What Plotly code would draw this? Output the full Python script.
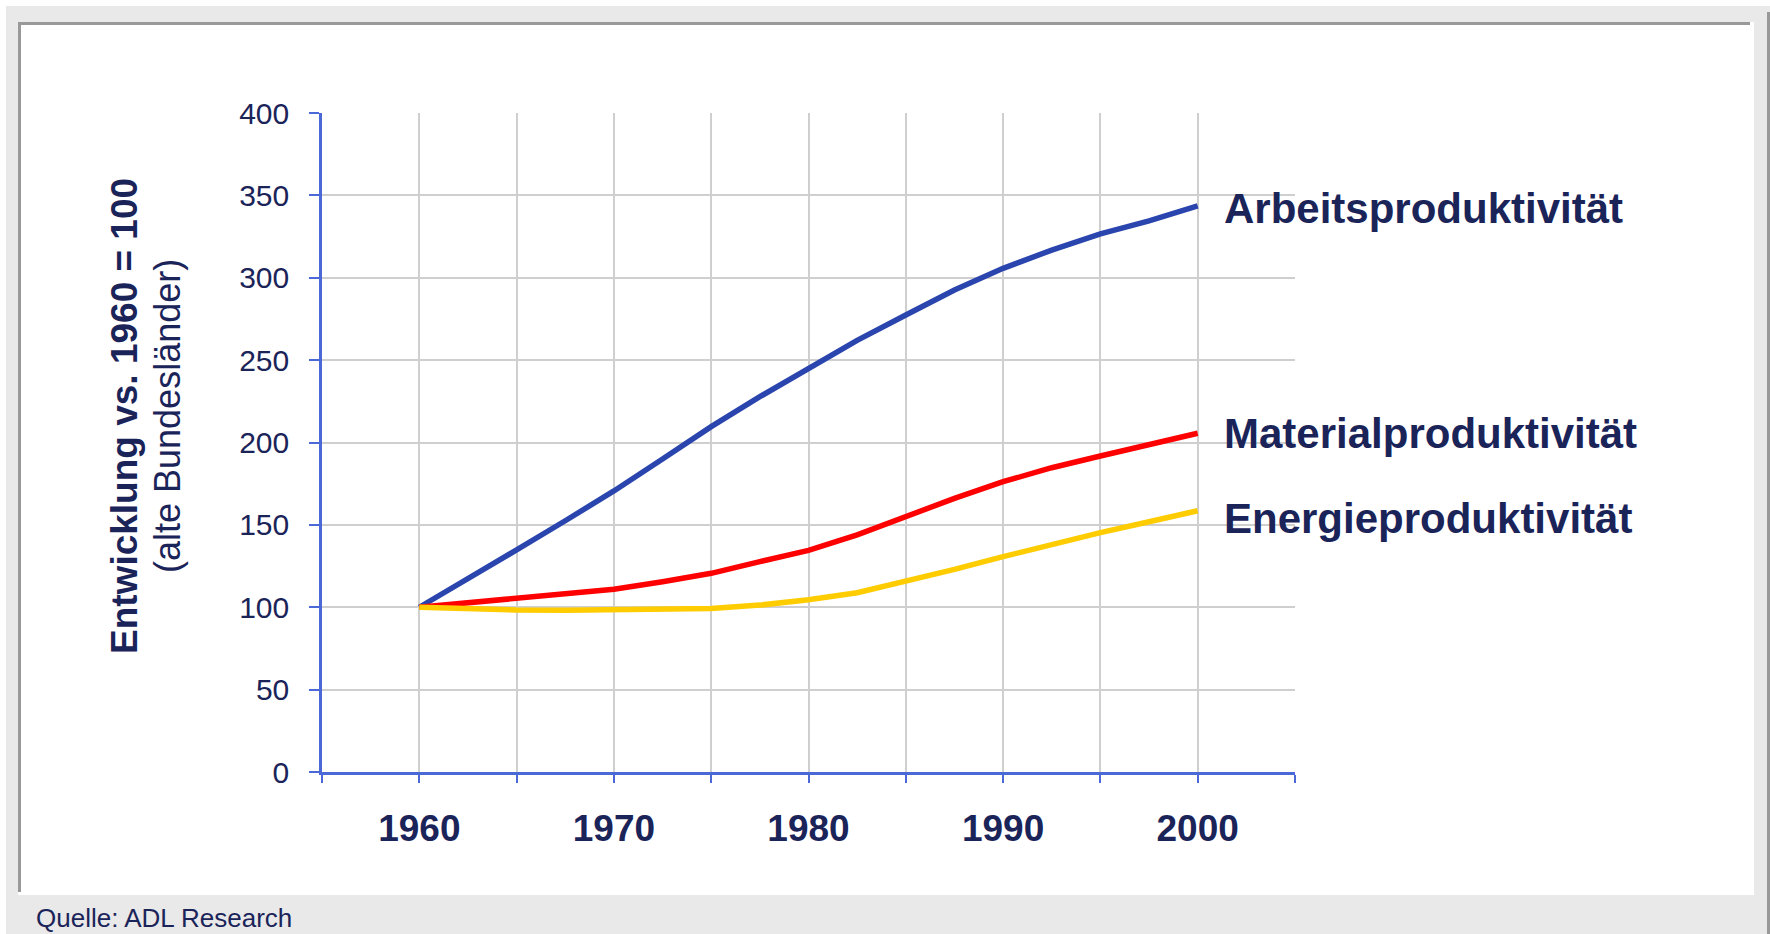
import plotly.graph_objects as go

# Index values (1960 = 100), old federal states
years = [1960, 1962.5, 1965, 1967.5, 1970, 1972.5, 1975, 1977.5, 1980,
         1982.5, 1985, 1987.5, 1990, 1992.5, 1995, 1997.5, 2000]
arbeit = [100, 117, 134.8, 152.5, 170.6, 190, 209.6, 227.8, 245,
          262, 277.4, 292.6, 305.7, 316.8, 326.6, 334.5, 343.6]
material = [100, 102.7, 105.4, 107.4, 110.9, 115.5, 120.6, 127.7, 134.5,
            143.9, 155, 166.1, 176.2, 184.7, 191.8, 198.5, 205.6]
energie = [100, 99, 98.3, 98.2, 98.3, 98.6, 99.3, 101.3, 104.6,
           108.8, 115.5, 123, 130.7, 138.2, 145.3, 151.9, 158.6]

series_names = ["Arbeitsproduktivität", "Materialproduktivität", "Energieproduktivität"]
series_values = [arbeit, material, energie]
series_colors = ["#2b45ae", "#ff0000", "#ffcc00"]
label_shift = [-3, 0, -8]

x_tickvals = [1955, 1960, 1965, 1970, 1975, 1980, 1985, 1990, 1995, 2000, 2005]
x_ticktext = ["", "1960", "", "1970", "", "1980", "", "1990", "", "2000", ""]
y_tickvals = [0, 50, 100, 150, 200, 250, 300, 350, 400]

NAVY = "#1b2459"
AXIS_BLUE = "#4b69d6"
GRID = "#cfcfcf"
FONT = "Liberation Sans, Arial, sans-serif"

W, H = 1770, 934
L, R, T, B = 322, 1295, 113, 772


def px(x):
    return (x - L) / (R - L)


def py(y):
    return (B - y) / (B - T)


fig = go.Figure()
for name, vals, col in zip(series_names, series_values, series_colors):
    fig.add_trace(go.Scatter(x=years, y=vals, mode="lines", name=name,
                             line=dict(color=col, width=5.5), showlegend=False))

annotations = []
for name, vals, dy in zip(series_names, series_values, label_shift):
    annotations.append(dict(x=years[-1], y=vals[-1], xref="x", yref="y",
                            text="<b>" + name + "</b>", showarrow=False,
                            xanchor="left", yanchor="middle", xshift=24, yshift=dy,
                            font=dict(family=FONT, size=42, color=NAVY)))

annotations.append(dict(x=px(124), y=py(416), xref="paper", yref="paper",
                        text="<b>Entwicklung vs. 1960 = 100</b>", showarrow=False,
                        textangle=-90, xanchor="center", yanchor="middle",
                        font=dict(family=FONT, size=37, color=NAVY)))
annotations.append(dict(x=px(167), y=py(416), xref="paper", yref="paper",
                        text="(alte Bundesländer)", showarrow=False,
                        textangle=-90, xanchor="center", yanchor="middle",
                        font=dict(family=FONT, size=36, color=NAVY)))
annotations.append(dict(x=px(34), y=py(918), xref="paper", yref="paper",
                        text="Quelle: ADL Research", showarrow=False,
                        xanchor="left", yanchor="middle",
                        font=dict(family=FONT, size=26, color=NAVY)))


def rect(x0, y0, x1, y1, color):
    return dict(type="rect", xref="paper", yref="paper", layer="below",
                x0=px(x0), x1=px(x1), y0=py(y0), y1=py(y1),
                fillcolor=color, line=dict(width=0))


shapes = [
    rect(6, 6, 1770, 934, "#e9e9e9"),
    rect(18, 22, 1754, 895, "#ffffff"),
    rect(18, 22, 1750, 25, "#999999"),
    rect(18, 22, 21, 892, "#999999"),
    rect(1767, 12, 1770, 934, "#999999"),
]

fig.update_layout(
    width=W, height=H, autosize=False,
    margin=dict(l=L, r=W - R, t=T, b=H - B, pad=0),
    paper_bgcolor="#ffffff", plot_bgcolor="rgba(0,0,0,0)",
    annotations=annotations, shapes=shapes,
    font=dict(family=FONT, color=NAVY),
)
fig.update_xaxes(range=[1955, 2005], tickmode="array", tickvals=x_tickvals,
                 ticktext=["<b>" + t + "</b>" if t else "" for t in x_ticktext],
                 showgrid=True, gridcolor=GRID, gridwidth=1.5,
                 showline=True, linecolor=AXIS_BLUE, linewidth=2.5, zeroline=False,
                 ticks="outside", ticklen=8, tickwidth=2, tickcolor=AXIS_BLUE,
                 tickfont=dict(family=FONT, size=37, color=NAVY),
                 ticklabelstandoff=14)
fig.update_yaxes(range=[0, 400], tickmode="array", tickvals=y_tickvals,
                 showgrid=True, gridcolor=GRID, gridwidth=1.5,
                 showline=True, linecolor=AXIS_BLUE, linewidth=2.5, zeroline=False,
                 ticks="outside", ticklen=10, tickwidth=2, tickcolor=AXIS_BLUE,
                 tickfont=dict(family=FONT, size=30, color=NAVY),
                 ticklabelstandoff=14)

fig.write_html("out.html")
